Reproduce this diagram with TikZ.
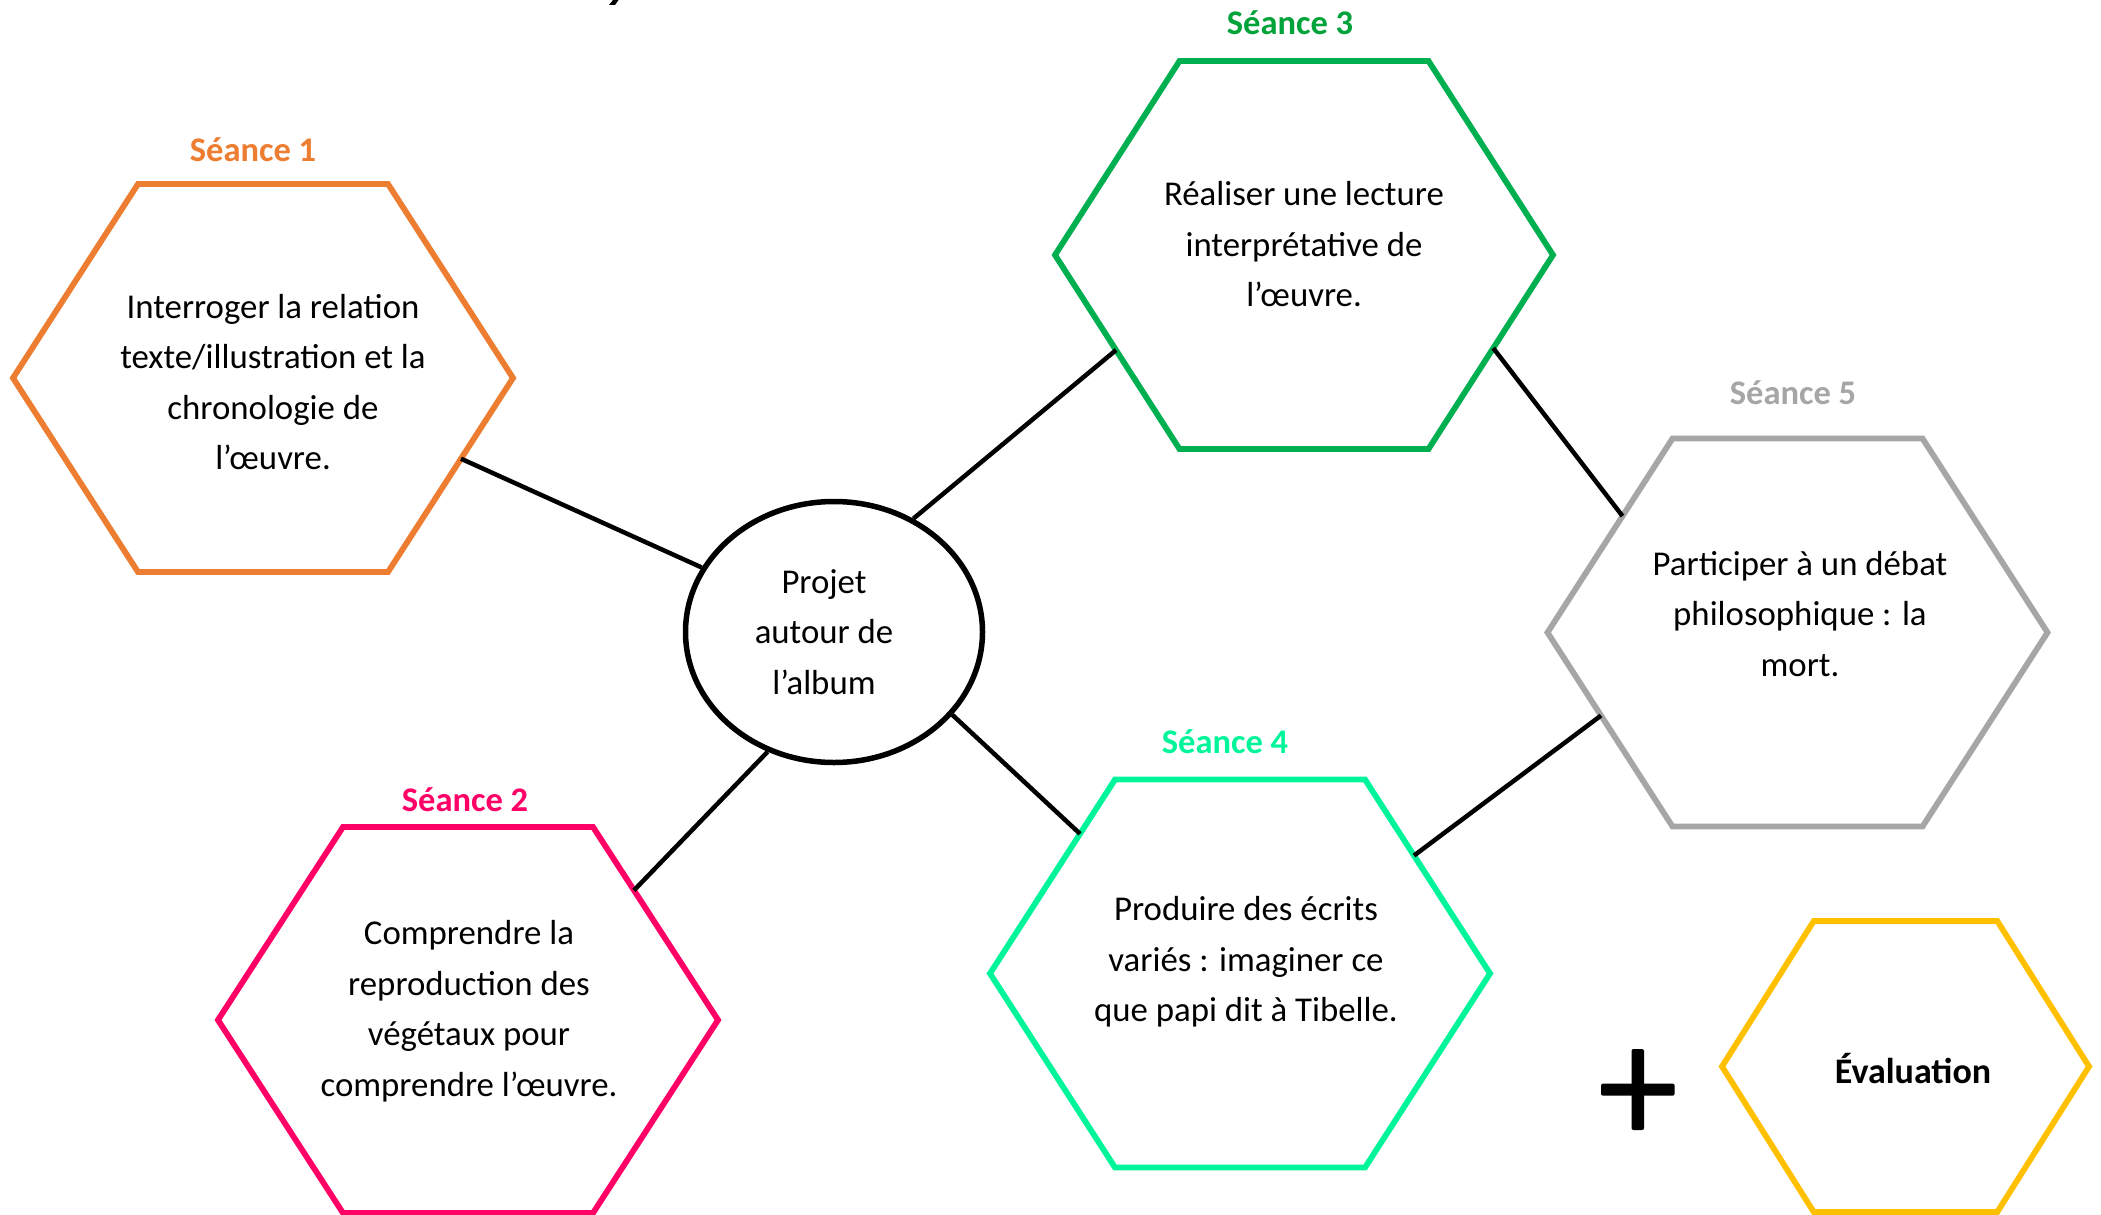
\documentclass[tikz,border=0pt]{standalone}
\usepackage{fontspec}
\setmainfont{Carlito}
\usetikzlibrary{shapes.geometric,calc}

\definecolor{cOrange}{HTML}{ED7D31}
\definecolor{cPink}{HTML}{FF0066}
\definecolor{cGreen}{HTML}{00B050}
\definecolor{cGreenLbl}{HTML}{00A33A}
\definecolor{cMint}{HTML}{00F59B}
\definecolor{cGray}{HTML}{A6A6A6}
\definecolor{cGold}{HTML}{FFC000}

% name, cx, cy, half-width, half-height, colour
\newcommand\hexa[6]{%
  \coordinate (#1-l)  at (#2-#4, #3);
  \coordinate (#1-tl) at (#2-#4/2, #3-#5);
  \coordinate (#1-tr) at (#2+#4/2, #3-#5);
  \coordinate (#1-r)  at (#2+#4, #3);
  \coordinate (#1-br) at (#2+#4/2, #3+#5);
  \coordinate (#1-bl) at (#2-#4/2, #3+#5);
  \draw[hexline, draw=#6] (#1-l) -- (#1-tl) -- (#1-tr) -- (#1-r) -- (#1-br) -- (#1-bl) -- cycle;
}

\tikzset{
  hexline/.style={line width=5.8pt},
  conn/.style={line width=4.5pt, black},
  txt/.style={align=center, inner sep=0pt, font=\fontsize{34.8}{50.5}\selectfont},
  lbl/.style={inner sep=0pt, font=\fontsize{34.5}{40}\selectfont\bfseries},
}

\begin{document}
\begin{tikzpicture}[x=1pt,y=-1pt]
\fill[white] (0,0) rectangle (2101,1215);
\useasboundingbox (0,0) rectangle (2101,1215);

% fragment of a cut-off glyph at the top edge
\fill (609,5) -- (615,5) -- (618.5,0) -- (613,0) -- cycle;

% hexagons
\hexa{h1}{263}{378}{250}{194}{cOrange}
\hexa{h2}{468}{1020}{250}{193}{cPink}
\hexa{h3}{1304}{255}{249}{194}{cGreen}
\hexa{h4}{1240}{973.5}{250}{194}{cMint}
\hexa{h5}{1797.5}{632.5}{250}{194}{cGray}
\hexa{h6}{1905.5}{1066.5}{183.5}{145.5}{cGold}

% labels
\node[lbl, text=cOrange]   (l1) at (253,150) {Séance 1};
\node[lbl, text=cPink]     (l2) at (465,800) {Séance 2};
\node[lbl, text=cGreenLbl] (l3) at (1290,23) {Séance 3};
\node[lbl, text=cMint]     (l4) at (1225,742) {Séance 4};
\node[lbl, text=cGray]     (l5) at (1793,393) {Séance 5};

% texts
\node[txt] (t1) at (273,382) {Interroger la relation\\texte/illustration et la\\chronologie de\\l’œuvre.};
\node[txt] (t2) at (469,1011) {Comprendre la\\reproduction des\\végétaux pour\\comprendre l’œuvre.};
\node[txt] (t3) at (1304,244.5) {Réaliser une lecture\\interprétative de\\l’œuvre.};
\node[txt] (t4) at (1246,962) {Produire des écrits\\variés : imaginer ce\\que papi dit à Tibelle.};
\node[txt] (t5) at (1800,614) {Participer à un débat\\philosophique : la\\mort.};
\node[lbl, font=\fontsize{36}{40}\selectfont\bfseries] (t6) at (1913,1069) {Évaluation};

% central ellipse
\node[draw, ellipse, line width=5.5pt, minimum width=297pt, minimum height=261pt, inner sep=0pt] (ell) at (834,632) {};
\node[txt] (ellT) at (824,632) {Projet\\autour de\\l’album};

% plus sign
\fill[rounded corners=2pt] (1631.5,1049) rectangle (1644,1130);
\fill[rounded corners=2pt] (1601,1083.6) rectangle (1674.6,1095.7);

% connector end points on the hexagons
\coordinate (c1) at ($(h1-r)!0.416!(h1-br)$);
\coordinate (c3) at ($(h3-l)!0.49!(h3-bl)$);
\coordinate (c2) at ($(h2-r)!0.672!(h2-tr)$);
\coordinate (c4) at ($(h4-l)!0.72!(h4-tl)$);
\coordinate (c35a) at ($(h3-r)!0.48!(h3-br)$);
\coordinate (c35b) at ($(h5-l)!0.60!(h5-tl)$);
\coordinate (c45a) at ($(h4-r)!0.608!(h4-tr)$);
\coordinate (c45b) at ($(h5-l)!0.428!(h5-bl)$);

% connectors
\draw[conn] (c1) -- (ell.154.3);
\draw[conn] (c3) -- (ell.55.3);
\draw[conn] (c2) -- (ell.-119.8);
\draw[conn] (c4) -- (ell.-35.8);
\draw[conn] (c35a) -- (c35b);
\draw[conn] (c45a) -- (c45b);
\end{tikzpicture}
\end{document}
